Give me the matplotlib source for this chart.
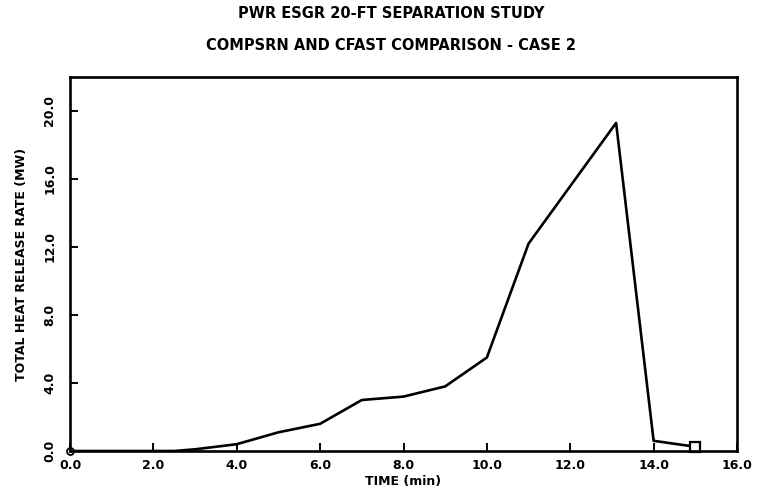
import matplotlib.pyplot as plt

# values
time_min = [0.0, 2.5, 3.0, 4.0, 5.0, 6.0, 7.0, 8.0, 9.0, 10.0, 11.0, 13.1, 14.0, 15.0]
hrr_mw = [0.0, 0.0, 0.1, 0.4, 1.1, 1.6, 3.0, 3.2, 3.8, 5.5, 12.2, 19.3, 0.6, 0.25]

x_ticks = [0.0, 2.0, 4.0, 6.0, 8.0, 10.0, 12.0, 14.0, 16.0]
y_ticks = [0.0, 4.0, 8.0, 12.0, 16.0, 20.0]

plt.rcParams["font.family"] = ["DejaVu Sans"]
plt.rcParams["font.weight"] = "bold"

fig = plt.figure(figsize=(7.59, 4.90), dpi=100)
ax = fig.add_axes([70 / 759, 39 / 490, 667 / 759, 374 / 490])

ax.plot(time_min, hrr_mw, color="black", lw=1.9)
ax.plot(time_min[0], hrr_mw[0], marker="o", ms=5, mfc="white", mec="black", mew=1.3, clip_on=False)
ax.plot(time_min[-1], hrr_mw[-1], marker="s", ms=7, mfc="white", mec="black", mew=1.6, clip_on=False)

ax.set_xlim(0, 16)
ax.set_ylim(0, 22)
ax.set_xticks(x_ticks)
ax.set_xticklabels([f"{v:.1f}" for v in x_ticks], fontsize=9, fontweight="bold")
ax.set_yticks(y_ticks)
ax.set_yticklabels([f"{v:.1f}" for v in y_ticks], fontsize=9, fontweight="bold",
                   rotation=90, va="center")
ax.tick_params(direction="in", length=6, width=1.4)
ax.tick_params(axis="x", pad=6)
ax.tick_params(axis="y", pad=10)
for s in ax.spines.values():
    s.set_linewidth(1.9)

ax.set_xlabel("TIME (min)", fontsize=9, fontweight="bold")
ax.xaxis.set_label_coords(0.5, -24 / 374)
ax.set_ylabel("TOTAL HEAT RELEASE RATE (MW)", fontsize=9, fontweight="bold")
ax.yaxis.set_label_coords(-42 / 667, 0.5)

fig.text(391 / 759, 1 - 14 / 490, "PWR ESGR 20-FT SEPARATION STUDY", ha="center", va="center",
         fontsize=10.5, fontweight="bold")
fig.text(391 / 759, 1 - 46 / 490, "COMPSRN AND CFAST COMPARISON - CASE 2", ha="center", va="center",
         fontsize=10.5, fontweight="bold")

fig.savefig("out.png", dpi=100)
